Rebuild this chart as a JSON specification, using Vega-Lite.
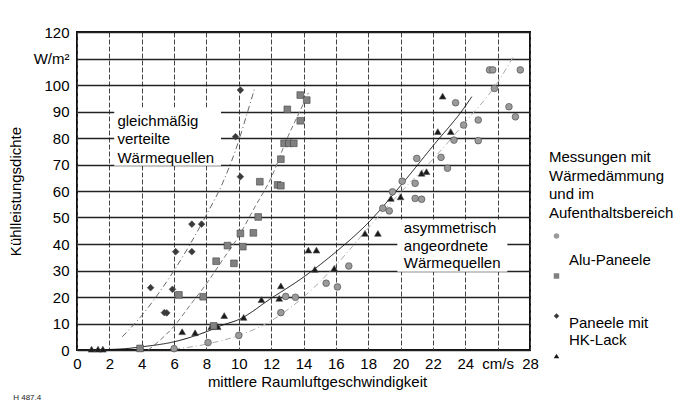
{
  "$schema": "https://vega.github.io/schema/vega-lite/v6.json",
  "width": 453,
  "height": 318,
  "autosize": "none",
  "padding": {"left": 77, "top": 32, "right": 150, "bottom": 58},
  "background": "white",
  "config": {
    "font": "Liberation Sans",
    "view": {"stroke": "#111", "strokeWidth": 2}
  },
  "title": {"text": "H 487.4", "orient": "bottom", "anchor": "start", "fontSize": 8, "fontWeight": "normal", "color": "#222", "dx": 5, "offset": 5},
  "datasets": {
    "boxes": [
      {"x": 2.3, "x2": 8.9, "y": 69.5, "y2": 91.5},
      {"x": 19.8, "x2": 26.6, "y": 29.5, "y2": 49}
    ],
    "labels": [
      {"x": 2.5, "y": 86.4, "text": "gleichmäßig"},
      {"x": 2.5, "y": 79.6, "text": "verteilte"},
      {"x": 2.5, "y": 72.6, "text": "Wärmequellen"},
      {"x": 20.2, "y": 46, "text": "asymmetrisch"},
      {"x": 20.2, "y": 39.2, "text": "angeordnete"},
      {"x": 20.2, "y": 32.8, "text": "Wärmequellen"}
    ],
    "curves": [
      {"s": "d", "x": 2.8, "y": 5}, {"s": "d", "x": 4, "y": 13}, {"s": "d", "x": 5, "y": 21}, {"s": "d", "x": 6, "y": 30}, {"s": "d", "x": 7, "y": 40}, {"s": "d", "x": 8, "y": 51}, {"s": "d", "x": 9, "y": 63}, {"s": "d", "x": 10, "y": 79}, {"s": "d", "x": 10.5, "y": 89}, {"s": "d", "x": 11, "y": 99},
      {"s": "sq", "x": 4.4, "y": 0}, {"s": "sq", "x": 5, "y": 3}, {"s": "sq", "x": 6, "y": 9}, {"s": "sq", "x": 7, "y": 17}, {"s": "sq", "x": 8, "y": 25}, {"s": "sq", "x": 9, "y": 34}, {"s": "sq", "x": 10, "y": 43}, {"s": "sq", "x": 11, "y": 54}, {"s": "sq", "x": 12, "y": 65}, {"s": "sq", "x": 13, "y": 80}, {"s": "sq", "x": 14, "y": 93}, {"s": "sq", "x": 14.3, "y": 97},
      {"s": "c", "x": 6, "y": 0.3}, {"s": "c", "x": 8, "y": 2.2}, {"s": "c", "x": 10, "y": 5.5}, {"s": "c", "x": 12, "y": 11}, {"s": "c", "x": 14, "y": 20}, {"s": "c", "x": 16, "y": 32}, {"s": "c", "x": 18, "y": 46}, {"s": "c", "x": 20, "y": 59.5}, {"s": "c", "x": 22, "y": 72}, {"s": "c", "x": 24, "y": 86}, {"s": "c", "x": 26, "y": 101}, {"s": "c", "x": 27, "y": 111},
      {"s": "tr", "x": 0.8, "y": 0}, {"s": "tr", "x": 2, "y": 0.2}, {"s": "tr", "x": 3, "y": 0.5}, {"s": "tr", "x": 4, "y": 1.2}, {"s": "tr", "x": 6, "y": 3.1}, {"s": "tr", "x": 8, "y": 6.9}, {"s": "tr", "x": 9, "y": 9.4}, {"s": "tr", "x": 10, "y": 11.5}, {"s": "tr", "x": 12, "y": 19.5}, {"s": "tr", "x": 14, "y": 27.5}, {"s": "tr", "x": 16, "y": 37}, {"s": "tr", "x": 18, "y": 48}, {"s": "tr", "x": 20, "y": 62}, {"s": "tr", "x": 22, "y": 77}, {"s": "tr", "x": 24, "y": 92}, {"s": "tr", "x": 24.4, "y": 95.6}
    ],
    "points": [
      {"t": "tr", "x": 0.9, "y": 0.3}, {"t": "tr", "x": 1.3, "y": 0.3}, {"t": "tr", "x": 1.6, "y": 0.3},
      {"t": "tr", "x": 6.5, "y": 6.9}, {"t": "tr", "x": 7.3, "y": 6.5}, {"t": "tr", "x": 8.3, "y": 8.8}, {"t": "tr", "x": 8.7, "y": 8.8}, {"t": "tr", "x": 9.1, "y": 13}, {"t": "tr", "x": 10.3, "y": 12.3}, {"t": "tr", "x": 11.4, "y": 19}, {"t": "tr", "x": 12.5, "y": 19.5}, {"t": "tr", "x": 12.6, "y": 24.2}, {"t": "tr", "x": 14.3, "y": 37.7}, {"t": "tr", "x": 14.8, "y": 37.7}, {"t": "tr", "x": 14.7, "y": 30.4}, {"t": "tr", "x": 15.9, "y": 30.8}, {"t": "tr", "x": 17.8, "y": 44}, {"t": "tr", "x": 18.6, "y": 44}, {"t": "tr", "x": 19.4, "y": 57.2}, {"t": "tr", "x": 20.0, "y": 57.8}, {"t": "tr", "x": 21.3, "y": 66.7}, {"t": "tr", "x": 21.6, "y": 67.3}, {"t": "tr", "x": 22.3, "y": 82.4}, {"t": "tr", "x": 23.1, "y": 82.4}, {"t": "tr", "x": 22.6, "y": 95.8},
      {"t": "c", "x": 6, "y": 0.5}, {"t": "c", "x": 8.1, "y": 2.8}, {"t": "c", "x": 10.0, "y": 5.5}, {"t": "c", "x": 12.6, "y": 14.1}, {"t": "c", "x": 12.9, "y": 20.2}, {"t": "c", "x": 13.5, "y": 19.9}, {"t": "c", "x": 15.4, "y": 25.2}, {"t": "c", "x": 16.1, "y": 23.8}, {"t": "c", "x": 16.8, "y": 31.7}, {"t": "c", "x": 18.9, "y": 53.5}, {"t": "c", "x": 19.3, "y": 52.5}, {"t": "c", "x": 19.5, "y": 59.7}, {"t": "c", "x": 20.1, "y": 63.7}, {"t": "c", "x": 20.9, "y": 62.9}, {"t": "c", "x": 20.9, "y": 57.2}, {"t": "c", "x": 21.3, "y": 56.9}, {"t": "c", "x": 21.0, "y": 72.3}, {"t": "c", "x": 22.5, "y": 72.7}, {"t": "c", "x": 22.9, "y": 68.6}, {"t": "c", "x": 23.3, "y": 79.2}, {"t": "c", "x": 24.8, "y": 79}, {"t": "c", "x": 23.9, "y": 84.9}, {"t": "c", "x": 24.8, "y": 86.8}, {"t": "c", "x": 23.4, "y": 93.3}, {"t": "c", "x": 25.8, "y": 98.7}, {"t": "c", "x": 25.5, "y": 105.7}, {"t": "c", "x": 25.7, "y": 105.7}, {"t": "c", "x": 27.4, "y": 105.7}, {"t": "c", "x": 26.7, "y": 91.8}, {"t": "c", "x": 27.1, "y": 88},
      {"t": "sq", "x": 3.9, "y": 0.6}, {"t": "sq", "x": 6.3, "y": 20.8}, {"t": "sq", "x": 7.8, "y": 20.1}, {"t": "sq", "x": 8.45, "y": 9.1}, {"t": "sq", "x": 8.6, "y": 33.5}, {"t": "sq", "x": 9.7, "y": 32.7}, {"t": "sq", "x": 9.3, "y": 39.4}, {"t": "sq", "x": 10.25, "y": 39}, {"t": "sq", "x": 10.1, "y": 44}, {"t": "sq", "x": 10.9, "y": 44.2}, {"t": "sq", "x": 11.2, "y": 50.2}, {"t": "sq", "x": 11.3, "y": 63.5}, {"t": "sq", "x": 12.4, "y": 62.3}, {"t": "sq", "x": 12.6, "y": 62}, {"t": "sq", "x": 12.6, "y": 72}, {"t": "sq", "x": 12.8, "y": 78}, {"t": "sq", "x": 13.1, "y": 78}, {"t": "sq", "x": 13.4, "y": 78}, {"t": "sq", "x": 13.0, "y": 90.8}, {"t": "sq", "x": 13.8, "y": 86.5}, {"t": "sq", "x": 13.8, "y": 96.2}, {"t": "sq", "x": 14.2, "y": 94.3},
      {"t": "d", "x": 4.55, "y": 23.5}, {"t": "d", "x": 5.4, "y": 14.1}, {"t": "d", "x": 5.55, "y": 14}, {"t": "d", "x": 5.9, "y": 22.9}, {"t": "d", "x": 6.1, "y": 37.1}, {"t": "d", "x": 7.1, "y": 37.1}, {"t": "d", "x": 7.1, "y": 47.5}, {"t": "d", "x": 7.7, "y": 47.5}, {"t": "d", "x": 9.8, "y": 80.5}, {"t": "d", "x": 10.1, "y": 65.4}, {"t": "d", "x": 10.1, "y": 98.1}
    ]
  },
  "encoding": {
    "x": {
      "field": "x", "type": "quantitative",
      "scale": {"domain": [0, 28], "nice": false, "zero": false},
      "axis": {
        "values": [0, 2, 4, 6, 8, 10, 12, 14, 16, 18, 20, 22, 24, 26, 28],
        "labelExpr": "datum.value == 26 ? 'cm/s' : datum.label",
        "grid": true, "gridDash": [5, 2], "gridColor": "#444", "gridWidth": 1,
        "ticks": false, "domain": false,
        "labelFontSize": 15, "labelColor": "#000", "labelPadding": 6, "labelFlush": false,
        "title": "mittlere Raumluftgeschwindigkeit", "titleFontSize": 15, "titleFontWeight": "normal", "titleColor": "#000", "titlePadding": 3, "titleX": 240
      }
    },
    "y": {
      "field": "y", "type": "quantitative",
      "scale": {"domain": [0, 120], "nice": false},
      "axis": {
        "values": [0, 10, 20, 30, 40, 50, 60, 70, 80, 90, 100, 110, 120],
        "labelExpr": "datum.value == 110 ? 'W/m²' : datum.label",
        "grid": true, "gridColor": "#222", "gridWidth": 1.5,
        "ticks": false, "domain": false,
        "labelFontSize": 15, "labelColor": "#000", "labelPadding": 8, "labelFlush": false,
        "title": "Kühlleistungsdichte", "titleFontSize": 15, "titleFontWeight": "normal", "titleColor": "#000", "titlePadding": 10
      }
    }
  },
  "layer": [
    {
      "data": {"name": "boxes"},
      "mark": {"type": "rect", "fill": "white"},
      "encoding": {"x2": {"field": "x2"}, "y2": {"field": "y2"}}
    },
    {
      "data": {"name": "curves"},
      "mark": {"type": "line", "interpolate": "monotone"},
      "encoding": {
        "stroke": {"field": "s", "type": "nominal", "scale": {"domain": ["d", "sq", "c", "tr"], "range": ["#666", "#777", "#aaa", "#111"]}, "legend": null},
        "strokeDash": {"field": "s", "type": "nominal", "scale": {"domain": ["d", "sq", "c", "tr"], "range": [[6, 3, 1, 3], [5, 3], [6, 3, 1, 3], [1, 0]]}, "legend": null},
        "strokeWidth": {"field": "s", "type": "nominal", "scale": {"domain": ["d", "sq", "c", "tr"], "range": [1, 1, 1, 1.6]}, "legend": null}
      }
    },
    {
      "data": {"name": "labels"},
      "mark": {"type": "text", "align": "left", "baseline": "middle", "fontSize": 15, "font": "Liberation Sans", "fill": "#000"},
      "encoding": {"text": {"field": "text"}}
    },
    {
      "data": {"name": "points"},
      "mark": {"type": "point", "filled": true, "size": 45, "opacity": 1, "stroke": "#444", "strokeWidth": 0.6},
      "encoding": {
        "shape": {
          "field": "t", "type": "nominal",
          "scale": {"domain": ["c", "sq", "d", "tr"], "range": ["circle", "square", "diamond", "triangle-up"]},
          "legend": {
            "orient": "none", "legendX": 472, "legendY": 118, "padding": 0,
            "title": ["Messungen mit", "Wärmedämmung", "und im", "Aufenthaltsbereich"],
            "titleFontSize": 15, "titleFontWeight": "normal", "titleColor": "#000", "titleLineHeight": 18.5, "titlePadding": 8, "titleLimit": 300,
            "labelExpr": "datum.value == 'c' ? ['', 'Alu-Paneele'] : datum.value == 'd' ? ['Paneele mit', 'HK-Lack'] : ''",
            "labelFontSize": 15, "labelColor": "#000", "labelLineHeight": 17, "labelBaseline": "top", "labelOffset": 5, "labelLimit": 200,
            "gridAlign": "all", "rowPadding": 0, "symbolSize": 30, "symbolStrokeWidth": 0
          }
        },
        "fill": {
          "field": "t", "type": "nominal",
          "scale": {"domain": ["c", "sq", "d", "tr"], "range": ["#9a9a9a", "#808080", "#3a3a3a", "#1a1a1a"]},
          "legend": {
            "orient": "none", "legendX": 472, "legendY": 118, "padding": 0,
            "title": ["Messungen mit", "Wärmedämmung", "und im", "Aufenthaltsbereich"],
            "titleFontSize": 15, "titleFontWeight": "normal", "titleColor": "#000", "titleLineHeight": 18.5, "titlePadding": 8, "titleLimit": 300,
            "labelExpr": "datum.value == 'c' ? ['', 'Alu-Paneele'] : datum.value == 'd' ? ['Paneele mit', 'HK-Lack'] : ''",
            "labelFontSize": 15, "labelColor": "#000", "labelLineHeight": 17, "labelBaseline": "top", "labelOffset": 5, "labelLimit": 200,
            "gridAlign": "all", "rowPadding": 0, "symbolSize": 30, "symbolStrokeWidth": 0
          }
        }
      }
    }
  ]
}
